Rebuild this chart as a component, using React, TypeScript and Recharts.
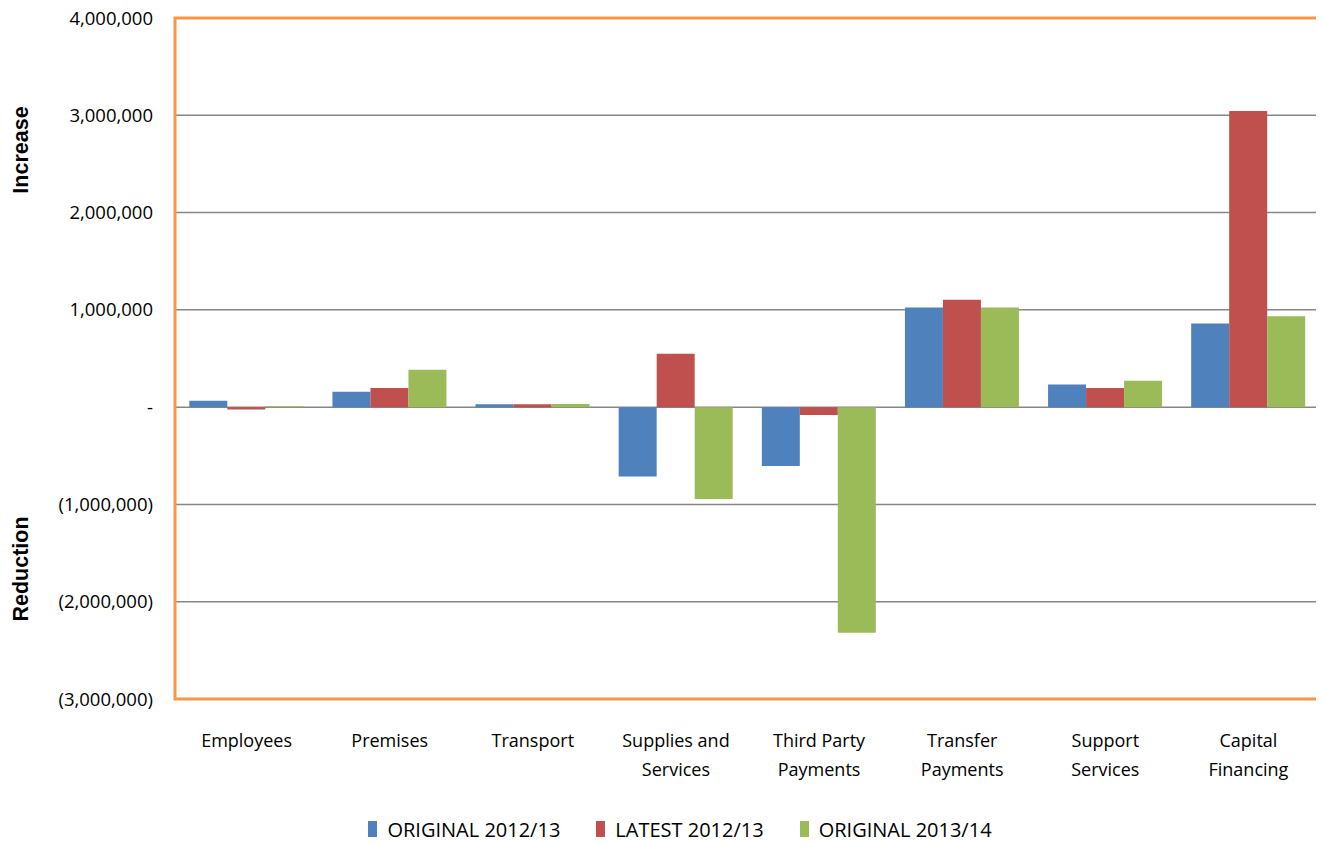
import {
  BarChart,
  Bar,
  XAxis,
  YAxis,
  CartesianGrid,
  ReferenceArea,
} from "recharts";

const categories = [
  "Employees",
  "Premises",
  "Transport",
  "Supplies and Services",
  "Third Party Payments",
  "Transfer Payments",
  "Support Services",
  "Capital Financing",
];

const original1213 = [65000, 157000, 30000, -714000, -605000, 1025000, 234000, 859000];
const latest1213 = [-25000, 197000, 30000, 550000, -82000, 1103000, 196000, 3045000];
const original1314 = [10000, 385000, 32000, -945000, -2320000, 1025000, 272000, 935000];

const yTicks = [-3000000, -2000000, -1000000, 0, 1000000, 2000000, 3000000, 4000000];

const seriesInfo = [
  { key: "orig1213", name: "ORIGINAL 2012/13", color: "#4F81BD" },
  { key: "latest1213", name: "LATEST 2012/13", color: "#C0504D" },
  { key: "orig1314", name: "ORIGINAL 2013/14", color: "#9BBB59" },
];

const data = categories.map((c, i) => ({
  name: c,
  orig1213: original1213[i],
  latest1213: latest1213[i],
  orig1314: original1314[i],
}));

const fmt = (v: number) => {
  if (v === 0) return "-";
  const s = Math.abs(v).toLocaleString("en-US");
  return v < 0 ? `(${s})` : s;
};

// split category into two lines the way the original wraps them
const splitLabel = (s: string): string[] => {
  if (s === "Supplies and Services") return ["Supplies and", "Services"];
  const parts = s.split(" ");
  if (parts.length === 1) return [s];
  if (parts.length === 2) return parts;
  return [parts.slice(0, 2).join(" "), parts.slice(2).join(" ")];
};

const CategoryTick = (props: any) => {
  const { x, y, payload } = props;
  const lines = splitLabel(payload.value);
  return (
    <g>
      {lines.map((l, i) => (
        <text
          key={i}
          x={x}
          y={y + 40 + i * 29}
          textAnchor="middle"
          fill="#000"
          fontSize={18}
          fontFamily="'Open Sans', sans-serif"
        >
          {l}
        </text>
      ))}
    </g>
  );
};

export default function App() {
  return (
    <div style={{ margin: -8, width: 1324, height: 845, position: "relative", background: "#fff" }}>
      <BarChart
        width={1324}
        height={845}
        data={data}
        margin={{ top: 18, right: 4, bottom: 54, left: 15 }}
        barCategoryGap="10%"
        barGap={0}
      >
        <CartesianGrid vertical={false} stroke="#868686" strokeWidth={1.5} />
        <XAxis
          dataKey="name"
          tick={<CategoryTick />}
          tickLine={false}
          axisLine={false}
          height={92}
          interval={0}
        />
        <YAxis
          domain={[-3000000, 4000000]}
          ticks={yTicks}
          tickFormatter={fmt}
          tickLine={false}
          axisLine={false}
          tickMargin={16}
          width={160}
          tick={{ fill: "#000", fontSize: 18.5, fontFamily: "'Open Sans', sans-serif" }}
          interval={0}
          label={{
            content: () => (
              <g fontFamily="'Liberation Sans', Arial, sans-serif" fontWeight="bold" fontSize={21.5} fill="#000">
                <text x={28} y={150} textAnchor="middle" transform="rotate(-90 28 150)">
                  Increase
                </text>
                <text x={28} y={569} textAnchor="middle" transform="rotate(-90 28 569)">
                  Reduction
                </text>
              </g>
            ),
          }}
        />
        {seriesInfo.map((s) => (
          <Bar key={s.key} dataKey={s.key} name={s.name} fill={s.color} isAnimationActive={false} />
        ))}
        <ReferenceArea
          y1={-3000000}
          y2={4000000}
          fill="none"
          stroke="#F79646"
          strokeWidth={3}
          ifOverflow="visible"
        />
      </BarChart>
      <div
        style={{
          position: "absolute",
          top: 816,
          left: 0,
          width: 1324,
          display: "flex",
          justifyContent: "center",
          gap: 36,
          fontFamily: "'Open Sans', sans-serif",
          fontSize: 20,
          color: "#000",
          paddingLeft: 36,
          boxSizing: "border-box",
        }}
      >
        {seriesInfo.map((s) => (
          <div key={s.key} style={{ display: "flex", alignItems: "center", gap: 10 }}>
            <div style={{ width: 9, height: 18, background: s.color }} />
            <span>{s.name}</span>
          </div>
        ))}
      </div>
    </div>
  );
}
